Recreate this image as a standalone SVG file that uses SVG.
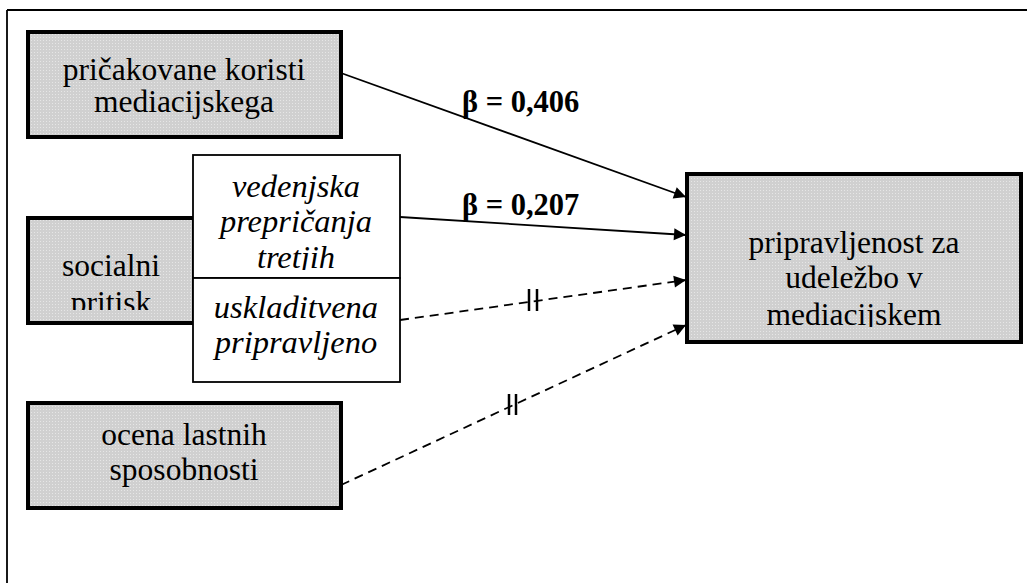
<svg xmlns="http://www.w3.org/2000/svg" width="1027" height="583" viewBox="0 0 1027 583">
<style>
.t{font-family:"Liberation Serif","Times New Roman",serif;font-size:31.5px;fill:#000;text-anchor:middle}
.s{font-size:30.5px}
.i{font-family:"Liberation Serif","Times New Roman",serif;font-size:32.5px;font-style:italic;fill:#000;text-anchor:middle}
.b{font-family:"Liberation Serif","Times New Roman",serif;font-size:30.5px;font-weight:bold;fill:#000}
.g{fill:url(#dots);stroke:#000;stroke-width:4}
.w{fill:#fff;stroke:#000;stroke-width:1.8}
.c{fill:none;stroke:#000;stroke-width:1.8}
.d{fill:none;stroke:#000;stroke-width:1.8;stroke-dasharray:9 6}
.m{stroke:#000;stroke-width:2.5}
</style>
<defs>
<pattern id="dots" width="3" height="3" patternUnits="userSpaceOnUse">
<rect width="3" height="3" fill="#d0d0d0"/>
<rect x="1" y="1" width="1" height="1" fill="#e6e6e6"/>
</pattern>
<marker id="ah" viewBox="0 0 10 10" refX="10" refY="5" markerWidth="15" markerHeight="12" markerUnits="userSpaceOnUse" orient="auto" overflow="visible">
<path d="M0,0 L10,5 L0,10 Z" fill="#000"/>
</marker>
<clipPath id="cs"><rect x="30" y="220" width="162" height="90"/></clipPath>
<clipPath id="ct"><rect x="194" y="156" width="205" height="114"/></clipPath>
<clipPath id="cr"><rect x="689" y="176" width="330" height="151"/></clipPath>
</defs>
<g id="frame">
<line x1="7" y1="10" x2="1027" y2="10" stroke="#000" stroke-width="1.8"/>
<line x1="7" y1="10" x2="7" y2="583" stroke="#000" stroke-width="1.8"/>
</g>
<g id="connectors">
<line class="c" x1="341" y1="73" x2="686" y2="197" marker-end="url(#ah)"/>
<line class="c" x1="400" y1="217" x2="686" y2="235" marker-end="url(#ah)"/>
<line class="d" x1="400" y1="320" x2="686" y2="280" marker-end="url(#ah)"/>
<line class="d" x1="341" y1="485" x2="686" y2="325" marker-end="url(#ah)"/>
<line class="m" x1="529" y1="289" x2="529" y2="311"/>
<line class="m" x1="537" y1="289" x2="537" y2="311"/>
<line class="m" x1="509" y1="394" x2="509" y2="415"/>
<line class="m" x1="516" y1="394" x2="516" y2="415"/>
<text class="b" x="462" y="112">β = 0,406</text>
<text class="b" x="462" y="215">β = 0,207</text>
</g>
<g id="node-koristi">
<rect class="g" x="28" y="32" width="313" height="105"/>
<text class="t" x="184" y="80">pričakovane koristi</text>
<text class="t" x="184" y="112">mediacijskega</text>
</g>
<g id="node-socialni">
<rect class="g" x="28" y="218" width="166" height="105"/>
<g clip-path="url(#cs)">
<text class="t" x="111" y="276">socialni</text>
<text class="t" x="111" y="313">pritisk</text>
</g>
</g>
<g id="node-vedenjska">
<rect class="w" x="193" y="155" width="207" height="123"/>
<g clip-path="url(#ct)">
<text class="i" x="296" y="197">vedenjska</text>
<text class="i" x="296" y="232">prepričanja</text>
<text class="i" x="296" y="268">tretjih</text>
</g>
</g>
<g id="node-uskladitvena">
<rect class="w" x="193" y="278" width="207" height="104"/>
<text class="i" x="296" y="318">uskladitvena</text>
<text class="i" x="296" y="353">pripravljeno</text>
</g>
<g id="node-ocena">
<rect class="g" x="28" y="403" width="313" height="105"/>
<text class="t" x="184" y="445">ocena lastnih</text>
<text class="t" x="184" y="480">sposobnosti</text>
</g>
<g id="node-pripravljenost">
<rect class="g" x="687" y="174" width="334" height="168"/>
<g clip-path="url(#cr)">
<text class="t" x="854" y="253">pripravljenost za</text>
<text class="t" x="854" y="288">udeležbo v</text>
<text class="t" x="854" y="325">mediacijskem</text>
</g>
</g>
</svg>
